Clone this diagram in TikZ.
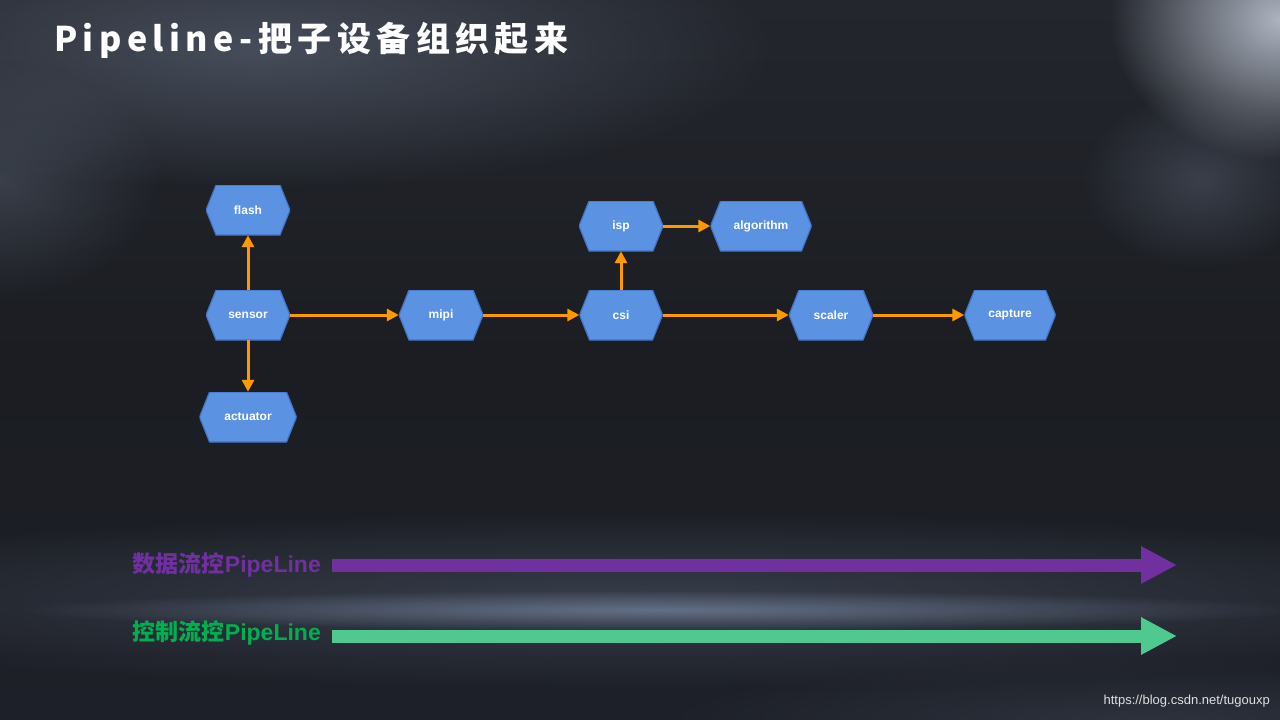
\documentclass[tikz,border=0pt]{standalone}
\usepackage{fontspec}
\setmainfont{Liberation Sans}
\newfontfamily\cjk{Noto Sans CJK SC}
\newfontfamily\cjktitle[LetterSpace=16]{Noto Sans CJK SC}
\usetikzlibrary{arrows.meta,fadings}
\definecolor{hexfill}{HTML}{5B93E2}
\definecolor{hexline}{HTML}{4472C4}
\definecolor{arr}{HTML}{FF9900}
\definecolor{purp}{HTML}{7030A0}
\definecolor{grn}{HTML}{50C991}
\definecolor{grntext}{HTML}{00B050}
\definecolor{bgtop}{HTML}{23262D}
\definecolor{bgmid}{HTML}{1B1D22}
\definecolor{bgbot}{HTML}{1D2028}
\definecolor{glowa}{HTML}{8A98B2}
\definecolor{glowb}{HTML}{D0D8E6}
\definecolor{glowc}{HTML}{8A9ABA}
\tikzfading[name=glowfade, inner color=transparent!0, outer color=transparent!100]
\begin{document}
\begin{tikzpicture}[x=1pt,y=-1pt,
  hexa/.style={minimum width=84pt, minimum height=50pt, inner sep=0pt, text=white,
    font=\fontsize{12}{13}\selectfont\bfseries,
    path picture={\filldraw[fill=hexfill, draw=hexline, line width=1.2pt]
      (path picture bounding box.west) -- ([xshift=10pt]path picture bounding box.north west)
      -- ([xshift=-10pt]path picture bounding box.north east) -- (path picture bounding box.east)
      -- ([xshift=-10pt]path picture bounding box.south east) -- ([xshift=10pt]path picture bounding box.south west) -- cycle;}},
  flow/.style={draw=arr, line width=3pt, -{Triangle[length=12pt,width=12pt]}},
  bigarrow/.style={line width=13pt, -{Triangle[length=36pt,width=35pt]}},
  lbl/.style={anchor=east, inner sep=0pt, font=\bfseries\fontsize{23}{25}\selectfont},
 ]
\useasboundingbox (0,0) rectangle (1280,720);
% background
\shade[top color=bgtop, bottom color=bgbot, middle color=bgmid] (0,0) rectangle (1280,720);
\fill[color=glowa, opacity=0.35, path fading=glowfade] (260,50) ellipse [x radius=520, y radius=140];
\fill[color=glowa, opacity=0.25, path fading=glowfade] (0,180) ellipse [x radius=160, y radius=120];
\fill[color=glowb, opacity=0.8, path fading=glowfade] (1280,20) ellipse [x radius=170, y radius=140];
\fill[color=glowa, opacity=0.25, path fading=glowfade] (1200,180) ellipse [x radius=120, y radius=90];
\fill[color=glowc, opacity=0.25, path fading=glowfade] (640,600) ellipse [x radius=1000, y radius=90];
\fill[color=glowc, opacity=0.55, path fading=glowfade] (660,610) ellipse [x radius=650, y radius=20];
\fill[color=glowa, opacity=0.15, path fading=glowfade] (1150,720) ellipse [x radius=500, y radius=60];
% title
\node[anchor=base west, inner sep=0pt, text=white, font=\cjktitle\bfseries\fontsize{34}{36}\selectfont] (title) at (54,51) {Pipeline-把子设备组织起来};
% nodes
\node[hexa] (flash) at (248,210) {flash};
\node[hexa] (sensor) at (248,315) {sensor};
\node[hexa, minimum width=97pt] (actuator) at (248,417) {actuator};
\node[hexa] (mipi) at (441,315) {mipi};
\node[hexa, minimum width=83pt] (csi) at (621,315) {csi};
\node[hexa] (isp) at (621,226) {isp};
\node[hexa, minimum width=101pt] (algorithm) at (761,226) {algorithm};
\node[hexa] (scaler) at (831,315) {scaler};
\node[hexa, minimum width=91pt] (capture) at (1010,315) {capture};
% connectors
\draw[flow] (sensor) -- (flash);
\draw[flow] (sensor) -- (actuator);
\draw[flow] (sensor) -- (mipi);
\draw[flow] (mipi) -- (csi);
\draw[flow] (csi) -- (isp);
\draw[flow] (isp) -- (algorithm);
\draw[flow] (csi) -- (scaler);
\draw[flow] (scaler) -- (capture);
% pipelines
\node[lbl, text=purp] (dlabel) at (321,565) {{\cjk\bfseries 数据流控}PipeLine};
\node[lbl, text=grntext] (clabel) at (321,633) {{\cjk\bfseries 控制流控}PipeLine};
\coordinate (d0) at (332,565);
\coordinate (d1) at (1177,565);
\coordinate (c0) at (332,636);
\coordinate (c1) at (1177,636);
\draw[bigarrow, purp] (d0) -- (d1);
\draw[bigarrow, grn] (c0) -- (c1);
% footer
\node[anchor=east, inner sep=0pt, text=white!75!gray, font=\fontsize{13}{14}\selectfont] (url) at (1270,701) {https://blog.csdn.net/tugouxp};
\end{tikzpicture}
\end{document}
